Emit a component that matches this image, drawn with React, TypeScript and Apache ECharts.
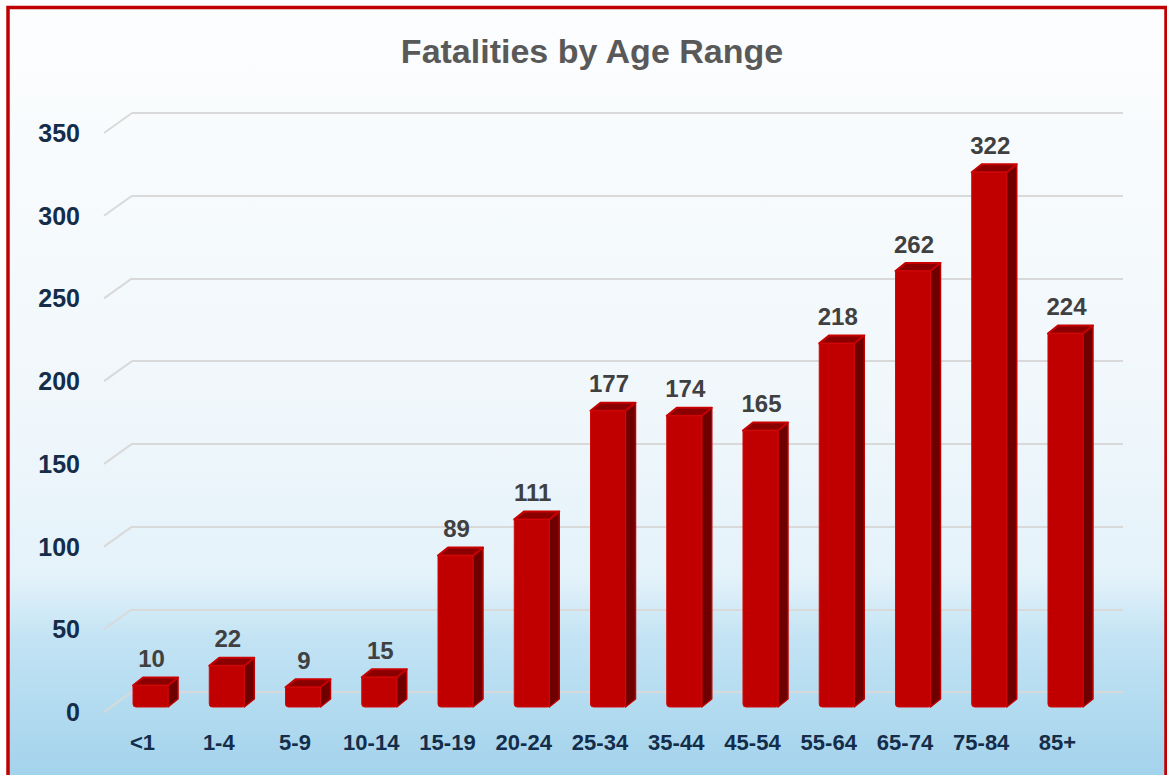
import React, { useEffect, useRef } from "react";
import * as echarts from "echarts";

const categories = ["<1", "1-4", "5-9", "10-14", "15-19", "20-24", "25-34", "35-44", "45-54", "55-64", "65-74", "75-84", "85+"];
const fatalities = [10, 22, 9, 15, 89, 111, 177, 174, 165, 218, 262, 322, 224];
const yTicks = [0, 50, 100, 150, 200, 250, 300, 350];
const titleText = "Fatalities by Age Range";

const FONT = "'Liberation Sans', Arial, sans-serif";
const NAVY = "#132d4a";

export default function App() {
  const ref = useRef<HTMLDivElement>(null);

  useEffect(() => {
    if (!ref.current) return;
    const chart = echarts.init(ref.current, undefined, { renderer: "svg" });

    const W = 1167;
    const H = 775;
    const dx = 10;
    const dy = 8;
    const halfW = 17.5;

    const option: any = {
      animation: false,
      title: {
        text: titleText,
        left: 587,
        top: 29,
        textAlign: "center",
        textStyle: { fontFamily: FONT, fontWeight: "bold", fontSize: 34, color: "#595959" },
      },
      graphic: [
        {
          type: "rect",
          z: -100,
          silent: true,
          shape: { x: 8, y: 7.5, width: 1158, height: 800 },
          style: {
            fill: new echarts.graphic.LinearGradient(0, 0, 0, 1, [
              { offset: 0, color: "#fcfdfe" },
              { offset: 0.5, color: "#f0f7fb" },
              { offset: 0.71, color: "#e4f2fa" },
              { offset: 0.79, color: "#c2e3f4" },
              { offset: 1, color: "#9ccfea" },
            ]),
          },
        },
        {
          type: "rect",
          z: 100,
          silent: true,
          shape: { x: 8, y: 7.5, width: 1158, height: 800 },
          style: { fill: "none", stroke: "#c00000", lineWidth: 3.5 },
        },
      ],
      grid: [
        { left: 132, right: W - 1123, top: 113, bottom: H - 692 },
        { left: 112.4, right: W - 1103.6, top: 126.25, bottom: H - 702 },
        { left: 104.4, right: W - 1095.6, top: 133, bottom: H - 712 },
      ],
      xAxis: [
        { gridIndex: 0, type: "category", data: categories, show: false },
        { gridIndex: 1, type: "category", data: categories, show: false },
        {
          gridIndex: 2,
          type: "category",
          data: categories,
          axisLine: { show: false },
          axisTick: { show: false },
          axisLabel: { margin: 19, color: NAVY, fontFamily: FONT, fontWeight: "bold", fontSize: 22 },
        },
      ],
      yAxis: [
        {
          gridIndex: 0,
          type: "value",
          min: 0,
          max: 350,
          interval: 50,
          axisLabel: { show: false },
          axisLine: { show: false },
          axisTick: { show: false },
          splitLine: { show: true, lineStyle: { color: "#d9d9d9", width: 2 } },
        },
        { gridIndex: 1, type: "value", min: 0, max: 350, interval: 50, show: false, splitLine: { show: false } },
        {
          gridIndex: 2,
          type: "value",
          min: 0,
          max: 350,
          interval: 50,
          axisLine: { show: false },
          axisTick: { show: false },
          splitLine: { show: false },
          axisLabel: { margin: 24.4, color: NAVY, fontFamily: FONT, fontWeight: "bold", fontSize: 25 },
        },
      ],
      series: [
        {
          type: "custom",
          xAxisIndex: 0,
          yAxisIndex: 0,
          silent: true,
          data: yTicks.map((v) => [0, v]),
          encode: { x: 0, y: 1 },
          renderItem: (params: any, api: any) => {
            const y = api.coord([0, api.value(1)])[1];
            const x0 = params.coordSys.x;
            return {
              type: "line",
              shape: { x1: x0, y1: y, x2: x0 - 28, y2: y + 20 },
              style: { stroke: "#d9d9d9", lineWidth: 2 },
            };
          },
        },
        {
          type: "custom",
          xAxisIndex: 1,
          yAxisIndex: 1,
          data: fatalities.map((v, i) => [i, v]),
          encode: { x: 0, y: 1 },
          renderItem: (params: any, api: any) => {
            const top = api.coord([api.value(0), api.value(1)]);
            const base = api.coord([api.value(0), 0]);
            const cx = top[0];
            const yt = top[1];
            const yb = base[1] + 5;
            const xl = cx - halfW;
            const xr = cx + halfW;
            return {
              type: "group",
              children: [
                {
                  type: "polygon",
                  shape: { points: [[xr, yt], [xr + dx, yt - dy], [xr + dx, yb - dy], [xr, yb]] },
                  style: { fill: "#6e0000", stroke: "#c00000", lineWidth: 1.5, lineJoin: "round" },
                },
                {
                  type: "polygon",
                  shape: { points: [[xl, yt], [xl + dx, yt - dy], [xr + dx, yt - dy], [xr, yt]] },
                  style: { fill: "#8a0000", stroke: "#c80000", lineWidth: 2, lineJoin: "round" },
                },
                {
                  type: "rect",
                  shape: { x: xl, y: yt, width: xr - xl, height: yb - yt, r: [0, 0, 2, 3] },
                  style: { fill: "#c00000", stroke: "#cf0a0a", lineWidth: 1 },
                },
                {
                  type: "text",
                  x: cx + 1,
                  y: yt - 27,
                  style: {
                    text: String(api.value(1)),
                    textAlign: "center",
                    textVerticalAlign: "middle",
                    font: `bold 24px ${FONT}`,
                    fill: "#404040",
                  },
                },
              ],
            };
          },
        },
      ],
    };

    chart.setOption(option);
    return () => chart.dispose();
  }, []);

  return (
    <div
      ref={ref}
      style={{ position: "fixed", left: 0, top: 0, width: 1167, height: 775, background: "#ffffff" }}
    />
  );
}
